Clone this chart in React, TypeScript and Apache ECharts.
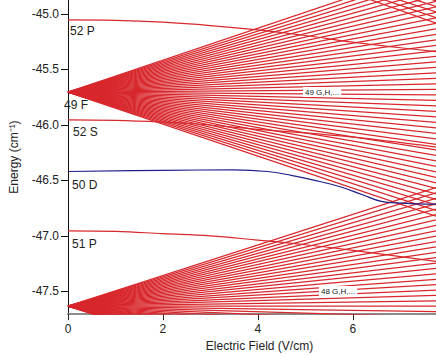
import React, { useEffect, useRef } from "react";
import * as echarts from "echarts";

// Field range (V/cm) and energy range (cm^-1)
const fieldMax = 7.75;
const energyMin = -47.705;
const energyMax = -44.875;
const xTicks = [0, 2, 4, 6];
const yTicks = [-47.5, -47.0, -46.5, -46.0, -45.5, -45.0];

// n = 49 hydrogenic manifold: zero-field energy and energies at fieldMax
const n49Center = -45.705;
const n49End = [
  -46.822, -46.771, -46.722, -46.672, -46.623, -46.573, -46.523, -46.474, -46.424, -46.375,
  -46.325, -46.275, -46.226, -46.176, -46.127, -46.077, -46.027, -45.978, -45.928, -45.879,
  -45.829, -45.779, -45.73, -45.68, -45.631, -45.581, -45.531, -45.482, -45.432, -45.383,
  -45.333, -45.283, -45.234, -45.184, -45.135, -45.085, -45.035, -44.986, -44.936, -44.887,
  -44.837, -44.787, -44.738, -44.688, -44.639, -44.589,
];

// n = 48 hydrogenic manifold
const n48Center = -47.634;
const n48End = [
  -48.703, -48.655, -48.606, -48.557, -48.509, -48.46, -48.412, -48.363, -48.314, -48.266,
  -48.217, -48.169, -48.12, -48.071, -48.023, -47.974, -47.926, -47.877, -47.828, -47.78,
  -47.731, -47.683, -47.634, -47.585, -47.537, -47.488, -47.44, -47.391, -47.342, -47.294,
  -47.245, -47.197, -47.148, -47.099, -47.051, -47.002, -46.954, -46.905, -46.856, -46.808,
  -46.759, -46.711, -46.662, -46.613, -46.565,
];

// n = 50 manifold (only its lowest members enter the plot, top right)
const n50Center = -43.895;
const n50End = [-45.084, -45.033, -44.983, -44.932, -44.882, -44.831];

// low-l states (quadratic Stark shift)
const fieldP52 = [0, 1, 2, 3, 4, 5, 6, 7, 7.75];
const energyP52 = [-45.054, -45.058, -45.075, -45.105, -45.145, -45.195, -45.255, -45.305, -45.34];

const fieldS52 = [0, 1, 2, 2.63, 4, 5.75, 7.75];
const energyS52 = [-45.955, -45.96, -45.975, -45.99, -46.04, -46.1, -46.2];

const fieldD50 = [0, 2, 3.5, 4.2, 4.7, 5.2, 5.75, 6.2, 6.6, 7.0, 7.75];
const energyD50 = [-46.42, -46.41, -46.405, -46.42, -46.455, -46.5, -46.56, -46.63, -46.69, -46.705, -46.715];

const fieldP51 = [0, 1, 2, 3, 3.94, 5, 6, 7.75];
const energyP51 = [-46.955, -46.96, -46.98, -47.0, -47.036, -47.08, -47.13, -47.23];

const RED = "#d8282d";
const BLUE = "#1f1f8a";
const FONT = "'Liberation Sans', Arial, sans-serif";

export default function App() {
  const ref = useRef<HTMLDivElement>(null);

  useEffect(() => {
    if (!ref.current) return;
    const chart = echarts.init(ref.current, null, { renderer: "svg" });

    const series: any[] = [];
    const straight = (center: number, ends: number[]) => {
      ends.forEach((e) => {
        series.push({
          type: "line",
          data: [
            [0, center],
            [fieldMax, e],
          ],
          showSymbol: false,
          symbol: "none",
          lineStyle: { color: RED, width: 1.25 },
          silent: true,
          clip: true,
        });
      });
    };
    straight(n50Center, n50End);
    straight(n49Center, n49End);
    straight(n48Center, n48End);

    const curve = (xs: number[], ys: number[], color: string) => {
      series.push({
        type: "line",
        data: xs.map((x, i) => [x, ys[i]]),
        smooth: 0.4,
        showSymbol: false,
        symbol: "none",
        lineStyle: { color, width: 1.2 },
        silent: true,
        clip: true,
        z: 3,
      });
    };
    curve(fieldP52, energyP52, RED);
    curve(fieldS52, energyS52, RED);
    curve(fieldP51, energyP51, RED);
    curve(fieldD50, energyD50, BLUE);

    const lab = (text: string, x: number, y: number) => ({
      type: "text",
      x,
      y,
      z: 10,
      style: {
        text,
        fill: "#222",
        font: `12px ${FONT}`,
        textVerticalAlign: "middle",
      },
    });
    const small = (text: string, x: number, y: number) => ({
      type: "text",
      x,
      y,
      z: 10,
      style: {
        text,
        fill: "#222",
        font: `8px ${FONT}`,
        textVerticalAlign: "middle",
        backgroundColor: "#fff",
        padding: [1, 2],
      },
    });

    chart.setOption({
      animation: false,
      grid: { left: 64, right: 0, top: 0, bottom: 40, containLabel: false },
      xAxis: {
        type: "value",
        min: 0,
        max: fieldMax,
        interval: 2,
        name: "Electric Field (V/cm)",
        nameLocation: "middle",
        nameGap: 25,
        nameTextStyle: { fontFamily: FONT, fontSize: 12, color: "#222", padding: [0, 0, 0, 15], verticalAlign: "top" },
        axisLine: { show: true, onZero: false, lineStyle: { color: "#8c8c8c", width: 2 } },
        axisTick: { show: true, length: 6, customValues: xTicks, lineStyle: { color: "#222", width: 1 } },
        axisLabel: { customValues: xTicks, fontFamily: FONT, fontSize: 12, color: "#222", margin: 9 },
        splitLine: { show: false },
      },
      yAxis: {
        type: "value",
        min: energyMin,
        max: energyMax,
        name: "Energy (cm\u207B\u00B9)",
        nameLocation: "middle",
        nameRotate: 90,
        nameGap: 48,
        nameTextStyle: { fontFamily: FONT, fontSize: 12, color: "#222" },
        axisLine: { show: true, onZero: false, lineStyle: { color: "#111", width: 1 } },
        axisTick: { show: true, length: 7, customValues: yTicks, lineStyle: { color: "#111", width: 1 } },
        axisLabel: {
          customValues: yTicks,
          formatter: (v: number) => v.toFixed(1),
          fontFamily: FONT,
          fontSize: 12,
          color: "#222",
          margin: 9,
        },
        splitLine: { show: false },
      },
      series,
      graphic: [
        lab("52 P", 70, 31),
        lab("49 F", 64, 105),
        lab("52 S", 73, 132),
        lab("50 D", 72, 185),
        lab("51 P", 72, 244),
        small("49 G,H,...", 303, 92),
        small("48 G,H,...", 319, 291),
      ],
    });

    return () => chart.dispose();
  }, []);

  return (
    <div
      ref={ref}
      style={{ position: "fixed", left: 0, top: 0, width: 436, height: 357, background: "#fff" }}
    />
  );
}
